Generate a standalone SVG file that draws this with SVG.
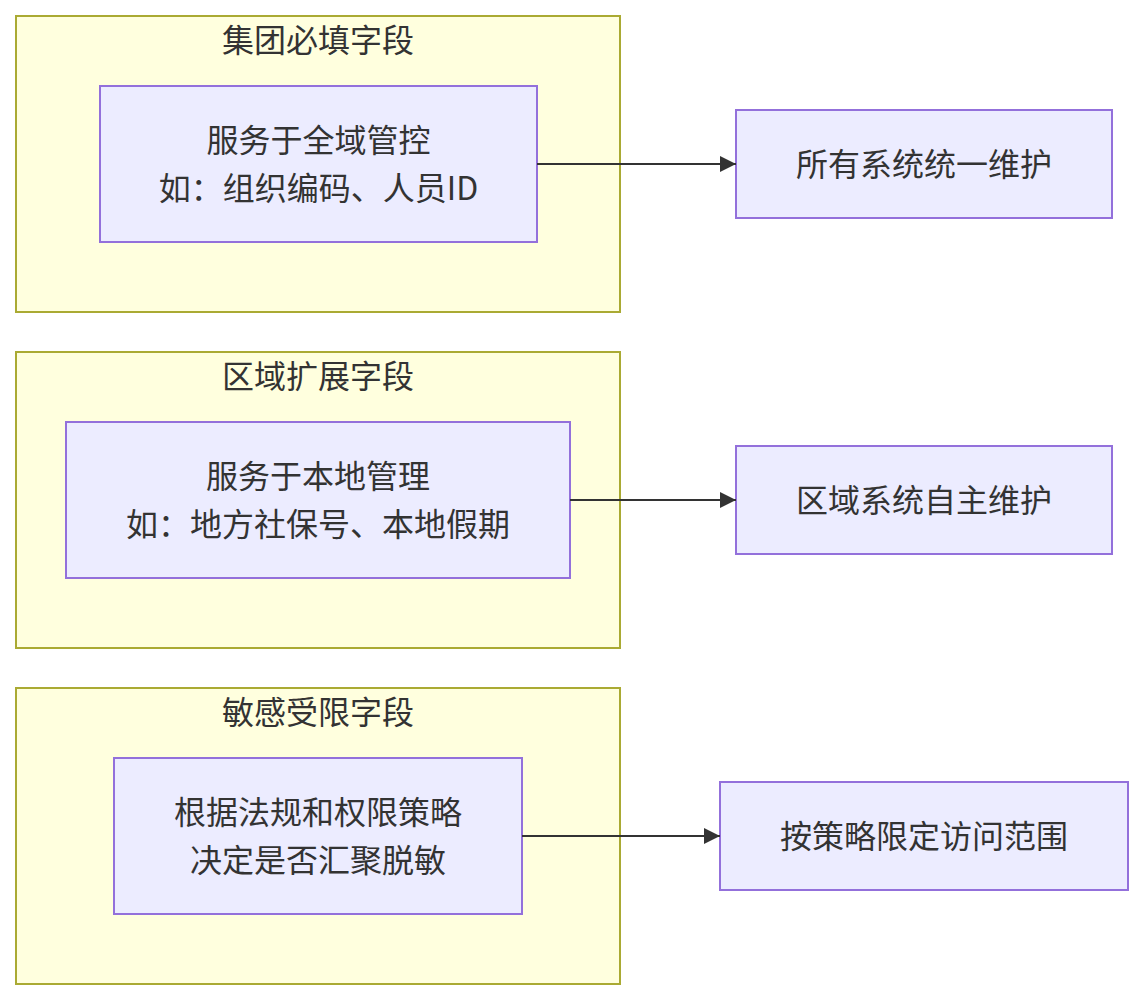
<svg xmlns="http://www.w3.org/2000/svg" width="1144" height="1000" viewBox="0 0 1144 1000">
<style>
.cluster rect{fill:#ffffde;stroke:#aaaa33;stroke-width:2}
.node rect{fill:#ECECFF;stroke:#9370DB;stroke-width:2}
text{font-family:"Noto Sans CJK SC","Noto Sans",sans-serif;font-size:32px;fill:#333;text-anchor:middle;dominant-baseline:central}
.edge{stroke:#333;stroke-width:2;fill:none}
</style>
<defs>
<marker id="arrow" viewBox="0 0 10 10" refX="10" refY="5" markerWidth="16" markerHeight="16" markerUnits="userSpaceOnUse" orient="auto">
<path d="M0,0 L10,5 L0,10 z" fill="#333"/>
</marker>
</defs>
<rect width="1144" height="1000" fill="#fff"/>
<g id="cluster1" class="cluster"><rect x="16" y="16" width="604" height="296"/><text x="318" y="38">集团必填字段</text></g>
<g id="cluster2" class="cluster"><rect x="16" y="352" width="604" height="296"/><text x="318" y="374">区域扩展字段</text></g>
<g id="cluster3" class="cluster"><rect x="16" y="688" width="604" height="296"/><text x="318" y="710">敏感受限字段</text></g>
<g id="A" class="node"><rect x="100" y="86" width="437" height="156"/><text x="318.5" y="138">服务于全域管控</text><text x="318.5" y="186">如：组织编码、人员ID</text></g>
<g id="B" class="node"><rect x="736" y="110" width="376" height="108"/><text x="924" y="162">所有系统统一维护</text></g>
<g id="C" class="node"><rect x="66" y="422" width="504" height="156"/><text x="318" y="474">服务于本地管理</text><text x="318" y="522">如：地方社保号、本地假期</text></g>
<g id="D" class="node"><rect x="736" y="446" width="376" height="108"/><text x="924" y="498">区域系统自主维护</text></g>
<g id="E" class="node"><rect x="114" y="758" width="408" height="156"/><text x="318" y="810">根据法规和权限策略</text><text x="318" y="858">决定是否汇聚脱敏</text></g>
<g id="F" class="node"><rect x="720" y="782" width="408" height="108"/><text x="924" y="834">按策略限定访问范围</text></g>
<g id="edges">
<path class="edge" d="M537,164 L736,164" marker-end="url(#arrow)"/>
<path class="edge" d="M570,500 L736,500" marker-end="url(#arrow)"/>
<path class="edge" d="M522,836 L720,836" marker-end="url(#arrow)"/>
</g>
</svg>
